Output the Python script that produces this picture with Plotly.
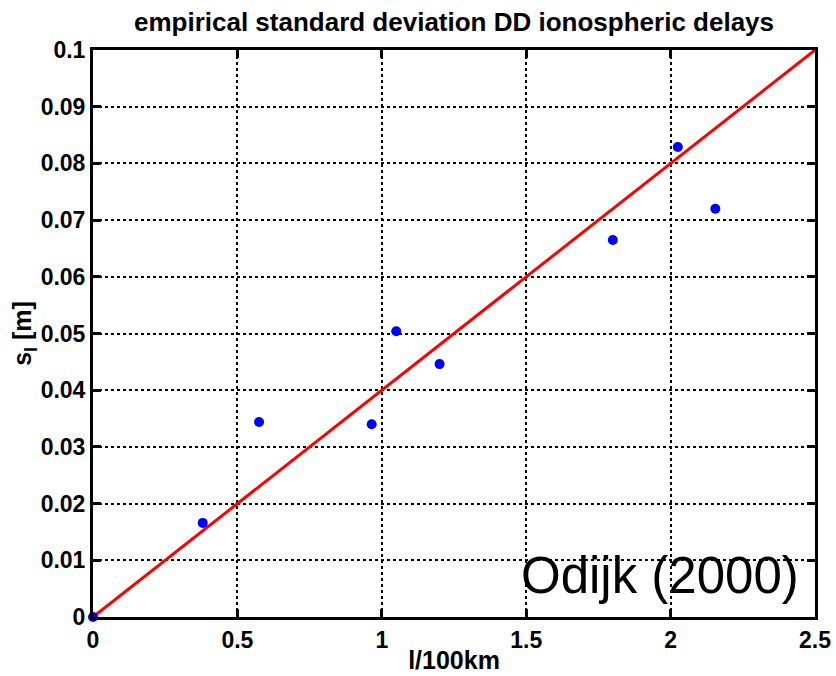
import plotly.graph_objects as go

dist = [0.0, 0.38, 0.575, 0.965, 1.05, 1.2, 1.8, 2.025, 2.155]
sigma = [0.0, 0.0166, 0.0344, 0.034, 0.0504, 0.0446, 0.0665, 0.0829, 0.072]
fit_x = [0.0, 2.5]
fit_y = [0.0, 0.1]
xticks = [0, 0.5, 1, 1.5, 2, 2.5]
xtick_text = ["0", "0.5", "1", "1.5", "2", "2.5"]
yticks = [0, 0.01, 0.02, 0.03, 0.04, 0.05, 0.06, 0.07, 0.08, 0.09, 0.1]
ytick_text = ["0", "0.01", "0.02", "0.03", "0.04", "0.05", "0.06", "0.07", "0.08", "0.09", "0.1"]

FONT = "Liberation Sans, Arial"

fig = go.Figure()
fig.add_trace(go.Scatter(x=fit_x, y=fit_y, mode="lines",
                         line=dict(color="#ff0000", width=3), showlegend=False, cliponaxis=False))
fig.add_trace(go.Scatter(x=dist, y=sigma, mode="markers",
                         marker=dict(color="#0000ff", size=10), showlegend=False, cliponaxis=False))

axis_common = dict(showline=True, linecolor="black", linewidth=3, mirror="ticks",
                   ticks="inside", ticklen=8, tickwidth=3, tickcolor="black",
                   showgrid=True, gridcolor="black", gridwidth=2, griddash="dot",
                   zeroline=False, automargin=False,
                   tickfont=dict(family=FONT, size=23, color="black", weight="bold"))

fig.update_xaxes(range=[0, 2.5], tickvals=xticks, ticktext=xtick_text,
                 title=dict(text="l/100km", font=dict(family=FONT, size=25,
                                                        color="black", weight="bold"), standoff=0),
                 **axis_common)
fig.update_yaxes(range=[0, 0.1], tickvals=yticks, ticktext=ytick_text,
                 title=dict(text="s<sub>I</sub> [m]", font=dict(family=FONT, size=25,
                                                                 color="black", weight="bold"), standoff=0),
                 **axis_common)

fig.add_annotation(text="Odijk (2000)", xref="paper", yref="paper", x=0.98, y=0.02,
                   xanchor="right", yanchor="bottom", showarrow=False,
                   font=dict(family=FONT, size=51, color="black"))

fig.update_layout(
    width=836, height=676,
    margin=dict(l=93, r=21, t=50, b=59),
    paper_bgcolor="white", plot_bgcolor="white",
    title=dict(text="empirical standard deviation DD ionospheric delays",
               x=(93 + 815) / 2 / 836, xanchor="center", y=1 - 22 / 676, yanchor="middle",
               font=dict(family=FONT, size=26, color="black", weight="bold")),
)

fig.write_html("out.html")
